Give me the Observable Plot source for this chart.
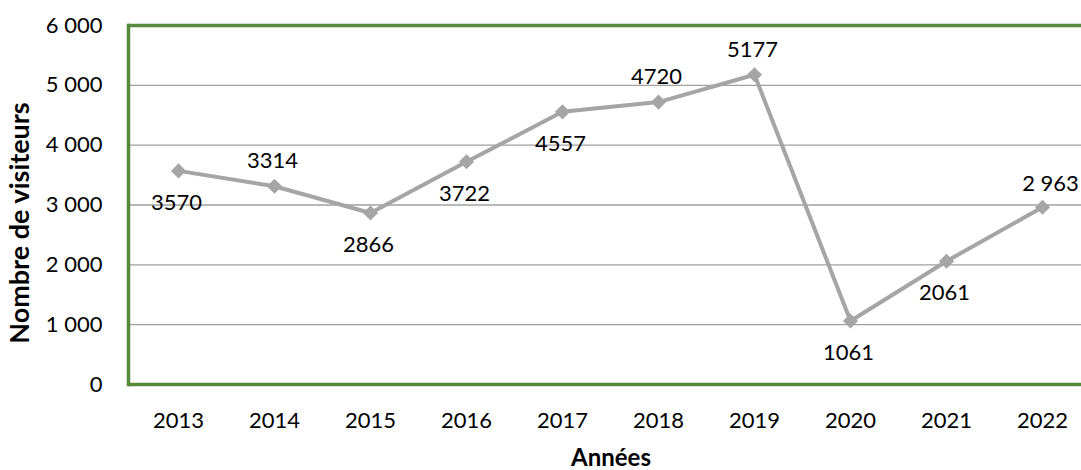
<!DOCTYPE html>
<html><head><meta charset="utf-8">
<script src="https://cdn.jsdelivr.net/npm/d3@7"></script>
<script src="https://cdn.jsdelivr.net/npm/@observablehq/plot@0.6"></script>
<style>body{margin:0;background:#fff}</style>
</head><body><div id="chart"></div>
<script>
const years = ["2013","2014","2015","2016","2017","2018","2019","2020","2021","2022"];
const visitors = [3570,3314,2866,3722,4557,4720,5177,1061,2061,2963];
const labels = ["3570","3314","2866","3722","4557","4720","5177","1061","2061","2 963"];
const labelSide = ["below","above","below","below","below","above","above","below","below","right"];
const yTicks = [0,1000,2000,3000,4000,5000,6000];
const yTickLabels = ["0","1 000","2 000","3 000","4 000","5 000","6 000"];

const data = years.map((y,i)=>({year:y, v:visitors[i], label:labels[i], side:labelSide[i]}));
const font = "Lato, 'Open Sans', sans-serif";
const green = "#558a3c";
const gray = "#a5a5a5";

const chart = Plot.plot({
  width:1081, height:470,
  marginTop:25, marginBottom:86, marginLeft:128, marginRight:0,
  style:{fontFamily:font, fontSize:"22px", color:"#000", background:"#fff", overflow:"visible"},
  x:{type:"point", domain:years, range:[128,1092], label:null},
  y:{domain:[0,6000], label:null},
  marks:[
    Plot.ruleY(yTicks.slice(1,-1), {stroke:"#a0a0a0", strokeWidth:1.3}),
    Plot.ruleY([6000], {stroke:green, strokeWidth:3.5}),
    Plot.ruleY([0], {stroke:green, strokeWidth:3.5}),
    Plot.frame({anchor:"left", stroke:green, strokeWidth:3.5}),
    Plot.axisY(yTicks, {tickSize:0, tickPadding:26, tickFormat:d=>yTickLabels[yTicks.indexOf(d)], fontSize:22, label:null}),
    Plot.axisX({tickSize:0, tickPadding:28, fontSize:22, label:null}),
    Plot.line(data, {x:"year", y:"v", stroke:gray, strokeWidth:4}),
    Plot.dot(data, {x:"year", y:"v", symbol:"diamond2", r:6.8, fill:gray, stroke:null}),
    Plot.text(data.filter(d=>d.side==="above"), {x:"year", y:"v", text:"label", dy:-25, dx:-2, fontSize:22}),
    Plot.text(data.filter(d=>d.side==="below"), {x:"year", y:"v", text:"label", dy:32, dx:-2, fontSize:22}),
    Plot.text(data.filter(d=>d.side==="right"), {x:"year", y:"v", text:"label", dy:-23, dx:8, fontSize:22}),
    Plot.text(["Nombre de visiteurs"], {frameAnchor:"left", textAnchor:"middle", dx:-108, dy:18, rotate:-90, fontWeight:"bold", fontSize:27}),
    Plot.text(["Années"], {frameAnchor:"bottom", textAnchor:"middle", dy:81, dx:6, fontWeight:"bold", fontSize:24})
  ]
});
document.getElementById("chart").append(chart);
</script></body></html>
